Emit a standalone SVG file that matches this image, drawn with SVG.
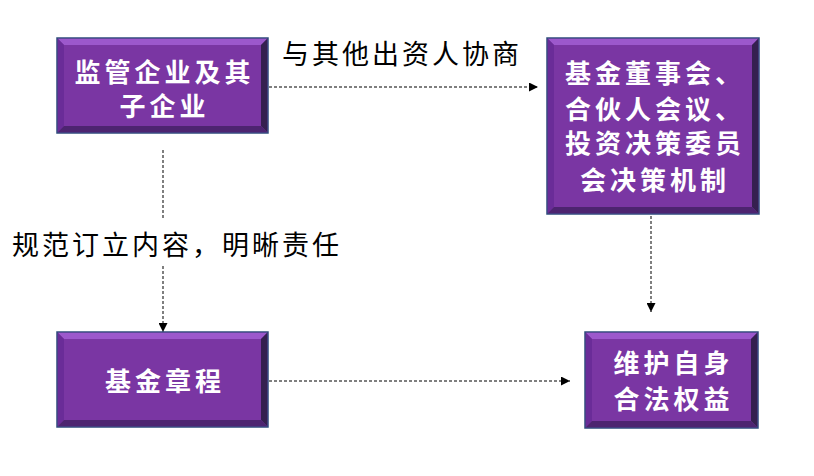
<svg xmlns="http://www.w3.org/2000/svg" width="814" height="476" viewBox="0 0 814 476">
<defs>
<style>
.face{fill:#7a36a3;stroke:#2f4c7c;stroke-width:1.5}
.bt{fill:#9c58cc}
.bl{fill:#6a2c98}
.br{fill:#35204f}
.bb{fill:#4d2470}
.nt{font-family:"Noto Sans CJK SC","Noto Sans",sans-serif;font-size:26px;font-weight:700;fill:#ffffff;text-anchor:middle;letter-spacing:4px}
.lbl{font-family:"Noto Sans CJK SC","Noto Sans",sans-serif;font-size:27px;font-weight:400;fill:#000000;letter-spacing:3px}
.conn{fill:none;stroke:#555555;stroke-width:1.5;stroke-dasharray:3 2}
</style>
<marker id="arr" viewBox="0 0 10 10" refX="10" refY="5" markerWidth="9" markerHeight="9" markerUnits="userSpaceOnUse" orient="auto">
<path d="M0,0 L10,5 L0,10 Z" fill="#000000"/>
</marker>
</defs>
<rect width="814" height="476" fill="#ffffff"/>

<g id="connectors">
<line class="conn" x1="269" y1="87" x2="538" y2="87" marker-end="url(#arr)"/>
<line class="conn" x1="163" y1="150" x2="163" y2="218"/>
<line class="conn" x1="163" y1="266" x2="163" y2="332" marker-end="url(#arr)"/>
<line class="conn" x1="651" y1="216" x2="651" y2="312" marker-end="url(#arr)"/>
<line class="conn" x1="269" y1="381" x2="570" y2="381" marker-end="url(#arr)"/>
</g>

<g id="label-negotiate">
<text class="lbl" x="282" y="64">与其他出资人协商</text>
</g>
<g id="label-charter">
<text class="lbl" x="12" y="255">规范订立内容，明晰责任</text>
</g>

<g id="node-enterprise">
<rect class="face" x="57" y="38" width="211" height="95"/>
<polygon class="bt" points="57.8,38.8 267.2,38.8 261,45 64,45"/>
<polygon class="bl" points="57.8,38.8 64,45 64,126 57.8,132.2"/>
<polygon class="br" points="267.2,38.8 267.2,132.2 261,126 261,45"/>
<polygon class="bb" points="57.8,132.2 267.2,132.2 261,126 64,126"/>
<text class="nt" x="164.5" y="82">监管企业及其</text>
<text class="nt" x="164.5" y="116">子企业</text>
</g>

<g id="node-board">
<rect class="face" x="547" y="38" width="212" height="176"/>
<polygon class="bt" points="547.8,38.8 758.2,38.8 752,45 554,45"/>
<polygon class="bl" points="547.8,38.8 554,45 554,207 547.8,213.2"/>
<polygon class="br" points="758.2,38.8 758.2,213.2 752,207 752,45"/>
<polygon class="bb" points="547.8,213.2 758.2,213.2 752,207 554,207"/>
<text class="nt" x="655" y="83">基金董事会、</text>
<text class="nt" x="655" y="119">合伙人会议、</text>
<text class="nt" x="655" y="153">投资决策委员</text>
<text class="nt" x="655" y="190">会决策机制</text>
</g>

<g id="node-charter">
<rect class="face" x="57" y="332" width="211" height="95"/>
<polygon class="bt" points="57.8,332.8 267.2,332.8 261,339 64,339"/>
<polygon class="bl" points="57.8,332.8 64,339 64,420 57.8,426.2"/>
<polygon class="br" points="267.2,332.8 267.2,426.2 261,420 261,339"/>
<polygon class="bb" points="57.8,426.2 267.2,426.2 261,420 64,420"/>
<text class="nt" x="165" y="391">基金章程</text>
</g>

<g id="node-rights">
<rect class="face" x="585" y="332" width="173" height="96"/>
<polygon class="bt" points="585.8,332.8 757.2,332.8 751,339 592,339"/>
<polygon class="bl" points="585.8,332.8 592,339 592,421 585.8,427.2"/>
<polygon class="br" points="757.2,332.8 757.2,427.2 751,421 751,339"/>
<polygon class="bb" points="585.8,427.2 757.2,427.2 751,421 592,421"/>
<text class="nt" x="673.5" y="373">维护自身</text>
<text class="nt" x="673.5" y="409">合法权益</text>
</g>
</svg>
